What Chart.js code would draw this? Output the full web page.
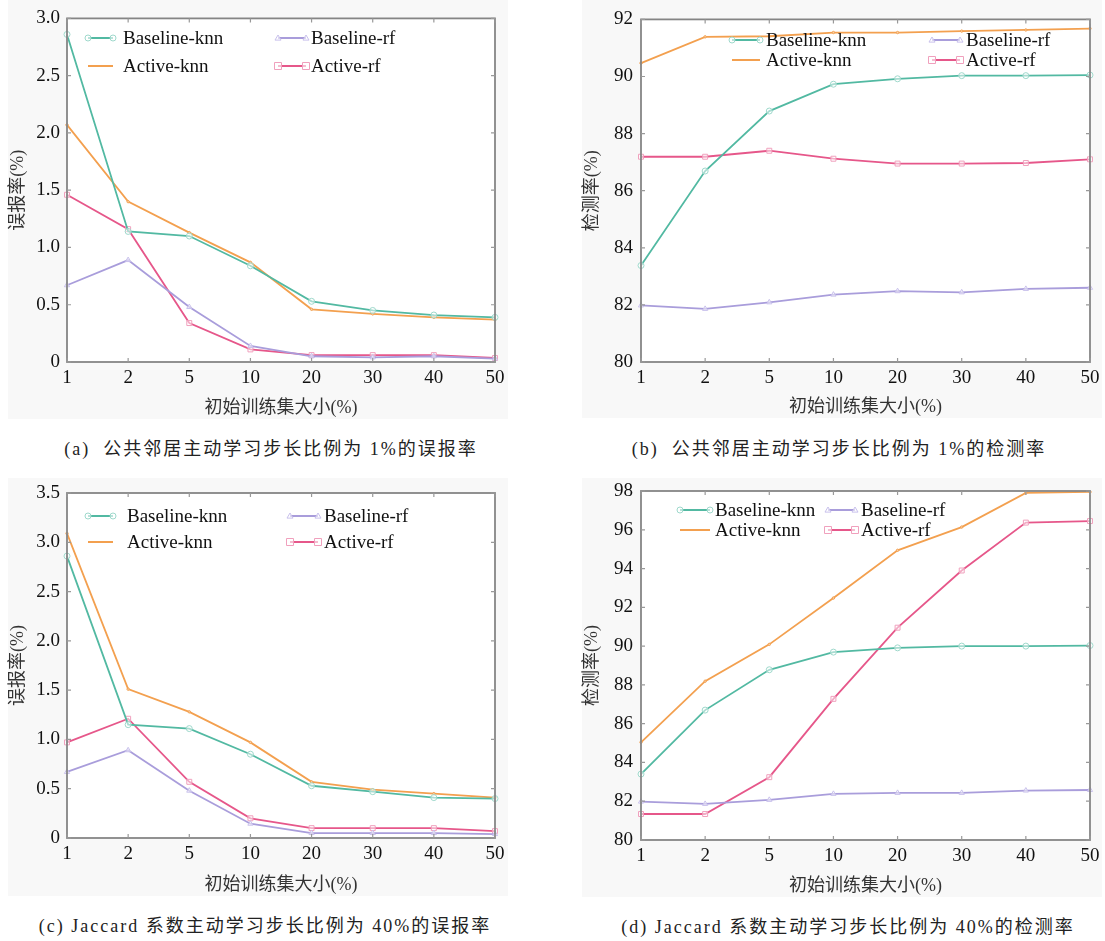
<!DOCTYPE html>
<html><head><meta charset="utf-8">
<script src="https://cdn.jsdelivr.net/npm/chart.js@4.4.0/dist/chart.umd.min.js"></script>
<style>
body{margin:0;background:#fff;width:1105px;height:941px;position:relative;overflow:hidden;}
canvas{position:absolute;background:transparent;}
.bg{position:absolute;background:#f8f8f8;}
.cap{position:absolute;font-family:"Liberation Serif","Noto Sans CJK SC",serif;font-size:18px;color:#222;white-space:nowrap;transform:translate(-50%,-50%);letter-spacing:2px;}
</style></head><body>
<div class="bg" style="left:8px;top:0;width:500px;height:419px"></div>
<div class="bg" style="left:582px;top:0;width:520px;height:418px"></div>
<div class="bg" style="left:8px;top:478px;width:500px;height:418px"></div>
<div class="bg" style="left:582px;top:478px;width:520px;height:419px"></div>
<canvas id="ca"></canvas><canvas id="cb"></canvas><canvas id="cc"></canvas><canvas id="cd"></canvas>
<div class="cap" style="left:271px;top:447px">(a)&nbsp; 公共邻居主动学习步长比例为 1%的误报率</div>
<div class="cap" style="left:839px;top:447px">(b)&nbsp; 公共邻居主动学习步长比例为 1%的检测率</div>
<div class="cap" style="left:265px;top:924px">(c) Jaccard 系数主动学习步长比例为 40%的误报率</div>
<div class="cap" style="left:848px;top:925px">(d) Jaccard 系数主动学习步长比例为 40%的检测率</div>
<script>
// ---- data ----
const categories = ['1','2','5','10','20','30','40','50'];
const seriesNames = ['Baseline-knn','Baseline-rf','Active-knn','Active-rf'];
const xTitle = '初始训练集大小(%)';
const yTitleFpr = '误报率(%)';
const yTitleDr = '检测率(%)';

// (a) false positive rate, common-neighbour, step 1%
const aBaselineKnn = [2.86,1.14,1.10,0.84,0.53,0.45,0.41,0.39];
const aBaselineRf  = [0.67,0.89,0.48,0.14,0.05,0.04,0.05,0.03];
const aActiveKnn   = [2.07,1.40,1.13,0.87,0.46,0.42,0.39,0.37];
const aActiveRf    = [1.46,1.16,0.34,0.11,0.06,0.06,0.06,0.035];
// (b) detection rate, common-neighbour, step 1%
const bBaselineKnn = [83.38,86.69,88.79,89.73,89.92,90.03,90.03,90.05];
const bBaselineRf  = [81.98,81.86,82.09,82.36,82.48,82.44,82.56,82.60];
const bActiveKnn   = [90.47,91.39,91.41,91.54,91.54,91.59,91.63,91.68];
const bActiveRf    = [87.19,87.19,87.40,87.12,86.95,86.95,86.97,87.10];
// (c) false positive rate, Jaccard, step 40%
const cBaselineKnn = [2.86,1.15,1.11,0.85,0.53,0.47,0.41,0.40];
const cBaselineRf  = [0.67,0.89,0.48,0.145,0.05,0.05,0.05,0.04];
const cActiveKnn   = [3.09,1.51,1.28,0.97,0.57,0.49,0.45,0.41];
const cActiveRf    = [0.97,1.21,0.57,0.20,0.10,0.10,0.10,0.07];
// (d) detection rate, Jaccard, step 40%
const dBaselineKnn = [83.4,86.7,88.78,89.69,89.91,90.0,90.0,90.03];
const dBaselineRf  = [81.98,81.86,82.07,82.38,82.43,82.43,82.55,82.58];
const dActiveKnn   = [85.04,88.19,90.09,92.48,94.94,96.14,97.9,97.95];
const dActiveRf    = [81.34,81.34,83.24,87.28,90.95,93.9,96.37,96.45];

const yTicksFpr1 = {min:0,max:3.0,step:0.5};
const yTicksFpr2 = {min:0,max:3.5,step:0.5};
const yTicksDr1 = {min:80,max:92,step:2};
const yTicksDr2 = {min:80,max:98,step:2};

// ---- styles ----
const styles = [
  {color:'#52b9a2', light:'#9fd9cc', pointStyle:'circle', radius:3},
  {color:'#a99ddb', light:'#c9c1ec', pointStyle:'triangle', radius:3},
  {color:'#f3a04f', light:'#f3a04f', pointStyle:'circle', radius:1.2},
  {color:'#e6578a', light:'#f0a0bd', pointStyle:'rect', radius:3.5}
];
const SERIF = '"Liberation Serif","Noto Sans CJK SC",serif';
Chart.defaults.font.family = SERIF;

const framePlugin = {
  id:'frame',
  beforeDatasetsDraw(chart){
    const {ctx, chartArea:a} = chart;
    ctx.save(); ctx.fillStyle='#ffffff';
    ctx.fillRect(a.left,a.top,a.right-a.left,a.bottom-a.top); ctx.restore();
  },
  afterDatasetsDraw(chart){
    const {ctx, chartArea:a, scales} = chart;
    ctx.save();
    ctx.strokeStyle='#858585'; ctx.lineWidth=1.8;
    ctx.strokeRect(a.left,a.top,a.right-a.left,a.bottom-a.top);
    ctx.lineWidth=1.2; ctx.strokeStyle='#999';
    const tl=4;
    scales.x.ticks.forEach((t,i)=>{
      const x=scales.x.getPixelForTick(i);
      ctx.beginPath(); ctx.moveTo(x,a.bottom); ctx.lineTo(x,a.bottom-tl);
      ctx.moveTo(x,a.top); ctx.lineTo(x,a.top+tl); ctx.stroke();
    });
    scales.y.ticks.forEach((t,i)=>{
      const y=scales.y.getPixelForTick(i);
      ctx.beginPath(); ctx.moveTo(a.left,y); ctx.lineTo(a.left+tl,y);
      ctx.moveTo(a.right,y); ctx.lineTo(a.right-tl,y); ctx.stroke();
    });
    ctx.restore();
  }
};

function drawMarker(ctx, st, x, y){
  ctx.save();
  ctx.strokeStyle=st.light; ctx.fillStyle='rgba(255,255,255,0.6)'; ctx.lineWidth=1;
  const r=st.radius;
  ctx.beginPath();
  if(st.pointStyle==='circle'){ ctx.arc(x,y,r,0,Math.PI*2); }
  else if(st.pointStyle==='rect'){ ctx.rect(x-r,y-r,2*r,2*r); }
  else { ctx.moveTo(x,y-r); ctx.lineTo(x+r,y+r*0.7); ctx.lineTo(x-r,y+r*0.7); ctx.closePath(); }
  ctx.fill(); ctx.stroke(); ctx.restore();
}

const legendPlugin = {
  id:'myLegend',
  afterDraw(chart, args, opts){
    const ctx=chart.ctx;
    const ox=opts.ox, oy=opts.oy;
    chart.data.datasets.forEach((ds,i)=>{
      const col=opts.cols[i%2], row=opts.rows[Math.floor(i/2)];
      const y=row-oy, x1=col[0]-ox, x2=col[1]-ox, tx=col[2]-ox;
      const st=styles[i];
      ctx.save();
      ctx.strokeStyle=st.color; ctx.lineWidth=2;
      ctx.beginPath(); ctx.moveTo(x1,y); ctx.lineTo(x2,y); ctx.stroke();
      if(st.radius>2){ drawMarker(ctx,st,x1,y); drawMarker(ctx,st,x2,y); }
      ctx.fillStyle='#111'; ctx.font='19px '+SERIF; ctx.textBaseline='middle'; ctx.textAlign='left';
      ctx.fillText(ds.label, tx, y+1);
      ctx.restore();
    });
  }
};

function makeChart(id, cfg){
  const [cx,cy,cw,ch]=cfg.canvas;
  const [L,T,R,B]=cfg.area;
  const cv=document.getElementById(id);
  cv.style.left=cx+'px'; cv.style.top=cy+'px';
  cv.width=cw; cv.height=ch; cv.style.width=cw+'px'; cv.style.height=ch+'px';
  const lh=18*1.2;
  const datasets=cfg.series.map((vals,i)=>({
    label:seriesNames[i], data:vals,
    borderColor:styles[i].color, borderWidth:1.8,
    pointStyle:styles[i].pointStyle, pointRadius:styles[i].radius,
    pointBorderColor:styles[i].light, pointBackgroundColor:'rgba(255,255,255,0.5)', pointBorderWidth:1,
    tension:0
  }));
  return new Chart(cv,{
    type:'line',
    data:{labels:categories, datasets},
    options:{
      responsive:false, animation:false, devicePixelRatio:1,
      layout:{padding:{top:T-cy,right:cx+cw-R,left:0,bottom:0}},
      plugins:{legend:{display:false},tooltip:{enabled:false},
        myLegend:Object.assign({ox:cx,oy:cy},cfg.legend)},
      scales:{
        x:{type:'category',offset:false,
          grid:{display:false,drawTicks:false},border:{display:false},
          ticks:{color:'#111',font:{family:SERIF,size:19},padding:5,maxRotation:0,autoSkip:false},
          title:{display:true,text:xTitle,color:'#333',font:{family:SERIF,size:18,lineHeight:1.2},padding:{top:0,bottom:0}},
          afterFit(s){ s.height = cy+ch-B; }
        },
        y:{min:cfg.yt.min,max:cfg.yt.max,
          grid:{display:false,drawTicks:false},border:{display:false},
          ticks:{stepSize:cfg.yt.step,color:'#111',font:{family:SERIF,size:19},padding:cfg.ytpad,
            callback:(v)=>cfg.fmt(v)},
          title:{display:true,text:cfg.ytitle,color:'#333',font:{family:SERIF,size:18,lineHeight:1.2},padding:{top:cfg.ytitleX-cx-lh/2,bottom:0}},
          afterFit(s){ s.width = L-cx; }
        }
      }
    },
    plugins:[framePlugin,legendPlugin]
  });
}
const fmt1=(v)=> v===0?'0':v.toFixed(1);
const fmt0=(v)=> String(Math.round(v));

makeChart('ca',{canvas:[0,0,520,419],area:[67,14,495,362],yt:yTicksFpr1,fmt:fmt1,ytpad:7,ytitle:yTitleFpr,ytitleX:18,
  series:[aBaselineKnn,aBaselineRf,aActiveKnn,aActiveRf],
  legend:{cols:[[88,113,123],[278,306,311]],rows:[38,66]}});
makeChart('cb',{canvas:[570,0,535,418],area:[641,14,1090,362],yt:yTicksDr1,fmt:fmt0,ytpad:8,ytitle:yTitleDr,ytitleX:592,
  series:[bBaselineKnn,bBaselineRf,bActiveKnn,bActiveRf],
  legend:{cols:[[732,760,766],[932,960,966]],rows:[40,60]}});
makeChart('cc',{canvas:[0,466,520,430],area:[67,493,495,838],yt:yTicksFpr2,fmt:fmt1,ytpad:7,ytitle:yTitleFpr,ytitleX:18,
  series:[cBaselineKnn,cBaselineRf,cActiveKnn,cActiveRf],
  legend:{cols:[[88,113,127],[290,318,324]],rows:[516,542]}});
makeChart('cd',{canvas:[570,466,535,431],area:[641,491,1090,840],yt:yTicksDr2,fmt:fmt0,ytpad:8,ytitle:yTitleDr,ytitleX:592,
  series:[dBaselineKnn,dBaselineRf,dActiveKnn,dActiveRf],
  legend:{cols:[[680,710,715],[828,855,861]],rows:[510,530]}});
</script>
</body></html>
